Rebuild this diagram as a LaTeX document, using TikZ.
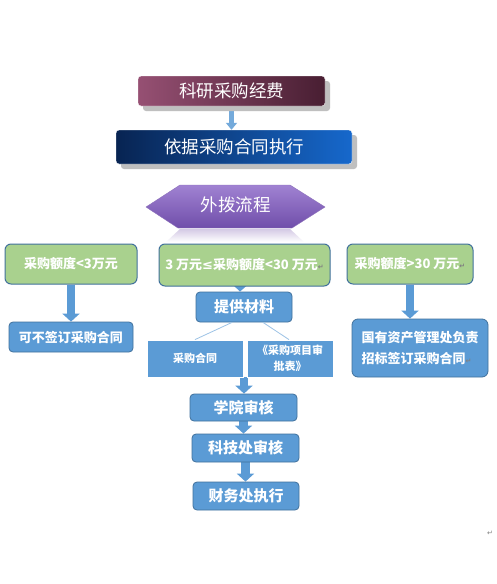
\documentclass[tikz,border=0pt]{standalone}
\usepackage{fontspec}
\setmainfont{Noto Sans CJK SC}
\newfontfamily\dvfont{DejaVu Sans}
\usetikzlibrary{arrows.meta,shadows,backgrounds}
\definecolor{gfill}{HTML}{A9D18E}
\definecolor{bfill}{HTML}{5B9BD5}
\definecolor{bline}{HTML}{41719C}
\definecolor{lline}{HTML}{9DC3E6}
\definecolor{pL}{RGB}{150,80,115}
\definecolor{pR}{RGB}{72,30,50}
\definecolor{nL}{RGB}{8,36,82}
\definecolor{nR}{RGB}{22,104,204}
\definecolor{hexT}{RGB}{160,130,210}
\definecolor{hexB}{RGB}{112,78,170}
\newcommand\parmk{{\dvfont\color{gray}\fontsize{7}{8}\selectfont ↵}}
\tikzset{
  greenbox/.style={draw=bline, line width=1pt, fill=gfill, rounded corners=6pt, text=white,
    font=\bfseries\fontsize{13}{15}\selectfont, inner sep=0pt},
  bluebox/.style={draw=bline, line width=0.8pt, fill=bfill, rounded corners=4pt, text=white,
    font=\bfseries\fontsize{15}{18}\selectfont, inner sep=0pt},
  flatbox/.style={draw=white, line width=0.8pt, fill=bfill, text=white, align=center,
    font=\bfseries\fontsize{11}{16}\selectfont, inner sep=0pt},
  titlebox/.style={rounded corners=3pt, text=white, inner sep=0pt,
    font=\fontsize{17.5}{20}\selectfont,
    drop shadow={shadow xshift=5pt, shadow yshift=-5pt, fill=black!25, opacity=1}},
  fat/.style={line width=8.5pt, draw=bfill, -{Triangle[width=17pt,length=8pt]}},
  smallarr/.style={line width=5pt, draw=bfill!85, -{Triangle[width=11pt,length=7pt]}},
  thinline/.style={draw=lline, line width=0.8pt}
}
\begin{document}
\begin{tikzpicture}[x=1pt,y=-1pt]
\useasboundingbox (0,0) rectangle (497,584);

% titles
\node[titlebox, minimum width=187pt, minimum height=30pt, left color=pL, right color=pR, draw=white] (t1) at (231.5,91) {科研采购经费};
\node[titlebox, minimum width=236pt, minimum height=34pt, left color=nL, right color=nR, draw=white] (t2) at (234,147) {依据采购合同执行};

% hexagon
\shade[top color=hexB!30, bottom color=white] (180,229) -- (290,229) -- (304,242) -- (166,242) -- cycle;
\shade[top color=hexT, bottom color=hexB, draw=hexB!80] (146,207) -- (180,185) -- (290,185) -- (325,207) -- (292,228) -- (178,228) -- cycle;
\node[text=white, font=\fontsize{17.5}{20}\selectfont] (hex) at (235.5,205) {外拨流程};

% green boxes
\node[greenbox, minimum width=132pt, minimum height=40pt] (g1) at (71,264) {采购额度<3万元};
\node[greenbox, minimum width=171pt, minimum height=42pt] (g2) at (244.5,265) {\raisebox{-5pt}{3 万元{\dvfont\bfseries ≤}采购额度<30 万元\parmk}};
\node[greenbox, minimum width=126pt, minimum height=40pt] (g3) at (410,264) {\raisebox{-4pt}{采购额度>30 万元\parmk}};

% blue boxes
\node[bluebox, minimum width=124pt, minimum height=30pt, font=\bfseries\fontsize{13}{16}\selectfont] (b1) at (71,337) {可不签订采购合同};
\node[bluebox, minimum width=96pt, minimum height=30pt] (tg) at (244,307) {提供材料};
\node[bluebox, minimum width=136pt, minimum height=58pt, align=left, rounded corners=6pt, font=\bfseries\fontsize{13}{21}\selectfont] (b3) at (420,348) {国有资产管理处负责\\招标签订采购合同\parmk};

\node[flatbox, minimum width=96pt, minimum height=37pt] (m1) at (195,358.5) {采购合同};
\node[flatbox, minimum width=86pt, minimum height=37pt] (m2) at (290,358.5) {《采购项目审\\批表》};

\node[bluebox, minimum width=107pt, minimum height=27pt] (x1) at (243.5,407.5) {学院审核};
\node[bluebox, minimum width=107pt, minimum height=28pt] (x2) at (245.5,448) {科技处审核};
\node[bluebox, minimum width=106pt, minimum height=28pt] (x3) at (246,496) {财务处执行};

\node (endmark) at (490,533) {\parmk};

\coordinate (mj) at (244,377);

\draw[thinline] ([xshift=-12pt]tg.south) -- (m1.north);
\draw[thinline] ([xshift=19pt]tg.south) -- ([xshift=-1pt]m2.north);

\begin{scope}[on background layer]
\fill[white] (0,0) rectangle (497,584);
\draw[smallarr] (t1.south) -- (t1.south |- t2.north);
\draw[fat] (g1.south) -- (b1.north);
\draw[fat] (g3.south) -- (g3.south |- b3.north);
\draw[fat] ([xshift=-4pt]g2.center) -- ([xshift=-4pt]tg.north);
\draw[fat] (mj) -- (mj |- x1.north);
\draw[fat] (x1.south) -- (x1.south |- x2.north);
\draw[fat] (x2.south) -- (x2.south |- x3.north);
\end{scope}
\end{tikzpicture}
\end{document}
